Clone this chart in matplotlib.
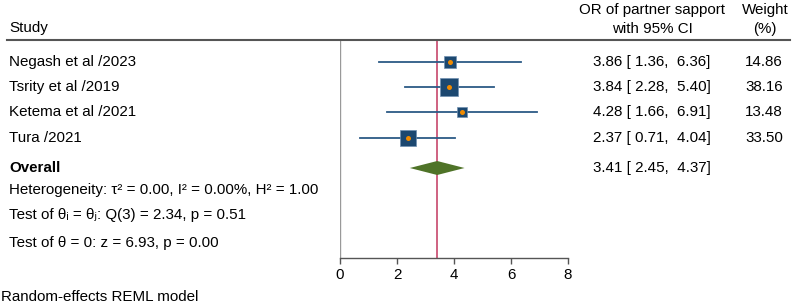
import matplotlib.pyplot as plt
from matplotlib.lines import Line2D

plt.rcParams['font.family'] = ['Liberation Sans', 'DejaVu Sans']

# study-level data
studies = ['Negash et al /2023', 'Tsrity et al /2019', 'Ketema et al /2021', 'Tura /2021']
or_est = [3.86, 3.84, 4.28, 2.37]
ci_low = [1.36, 2.28, 1.66, 0.71]
ci_high = [6.36, 5.40, 6.91, 4.04]
weights = [14.86, 38.16, 13.48, 33.50]

# pooled estimate
overall_est = 3.41
overall_low = 2.45
overall_high = 4.37

xticks = [0, 2, 4, 6, 8]
notes = ['Heterogeneity: \u03c4\u00b2 = 0.00, I\u00b2 = 0.00%, H\u00b2 = 1.00',
         'Test of \u03b8\u1d62 = \u03b8\u2c7c: Q(3) = 2.34, p = 0.51',
         'Test of \u03b8 = 0: z = 6.93, p = 0.00']
model_note = 'Random-effects REML model'

W, H = 798, 306
fs = 10.9
navy = '#1c4870'
line_col = '#2c5a86'
orange = '#f08a00'
red = '#cc5577'
green = '#4f7328'

def fx(px):
    return px / W

def fy(py):
    return 1 - py / H

fig = plt.figure(figsize=(W / 100, H / 100), dpi=100)
ax = fig.add_axes([fx(340), fy(258), fx(568) - fx(340), fy(40) - fy(258)])
ax.set_xlim(0, 8)
ax.set_ylim(258, 40)  # pixel rows inside the plot panel

row_y = [62, 87, 112, 138]
overall_y = 168

# confidence intervals and weighted squares
for y, est, lo, hi, w in zip(row_y, or_est, ci_low, ci_high, weights):
    ax.plot([lo, hi], [y, y], color=line_col, lw=1.3, zorder=3)
    side = 2.86 * w ** 0.5
    ax.plot(est, y, marker='s', ms=side * 0.72, color=navy, mec='#6f8fb0', mew=0.5, zorder=4)
    ax.plot(est, y, marker='o', ms=3.6, color=orange, mew=0, zorder=5)

# overall diamond
ax.fill([overall_low, overall_est, overall_high, overall_est],
        [overall_y, overall_y - 7, overall_y, overall_y + 7], color=green, zorder=4, lw=0)

ax.axvline(0, color='#999999', lw=1.0, zorder=1)
ax.axvline(overall_est, color=red, lw=1.3, zorder=2)

for s in ['top', 'right', 'left']:
    ax.spines[s].set_visible(False)
ax.spines['bottom'].set_color('#555555')
ax.spines['bottom'].set_linewidth(1.0)
ax.set_yticks([])
ax.set_xticks(xticks)
ax.tick_params(axis='x', length=4, width=1.0, color='#555555', labelsize=fs, pad=3)

# header
fig.add_artist(Line2D([fx(7), fx(790)], [fy(40), fy(40)], color='#555555', lw=1.5))
fig.text(fx(9), fy(28), 'Study', fontsize=fs, va='center')
fig.text(fx(652), fy(10), 'OR of partner sapport', fontsize=fs, va='center', ha='center')
fig.text(fx(652), fy(29), 'with 95% CI', fontsize=fs, va='center', ha='center')
fig.text(fx(765), fy(10), 'Weight', fontsize=fs, va='center', ha='center')
fig.text(fx(765), fy(29), '(%)', fontsize=fs, va='center', ha='center')

for y, name, est, lo, hi, w in zip(row_y, studies, or_est, ci_low, ci_high, weights):
    fig.text(fx(9), fy(y), name, fontsize=fs, va='center')
    fig.text(fx(593), fy(y), f'{est:.2f} [ {lo:.2f},  {hi:.2f}]', fontsize=fs, va='center')
    fig.text(fx(783), fy(y), f'{w:.2f}', fontsize=fs, va='center', ha='right')

fig.text(fx(9), fy(overall_y), 'Overall', fontsize=fs, va='center', fontweight='bold')
fig.text(fx(593), fy(overall_y), f'{overall_est:.2f} [ {overall_low:.2f},  {overall_high:.2f}]',
         fontsize=fs, va='center')

for y, t in zip([190, 215, 243], notes):
    fig.text(fx(9), fy(y), t, fontsize=fs, va='center')

fig.text(fx(1), fy(297), model_note, fontsize=fs, va='center')

fig.savefig('out.png', dpi=100)
